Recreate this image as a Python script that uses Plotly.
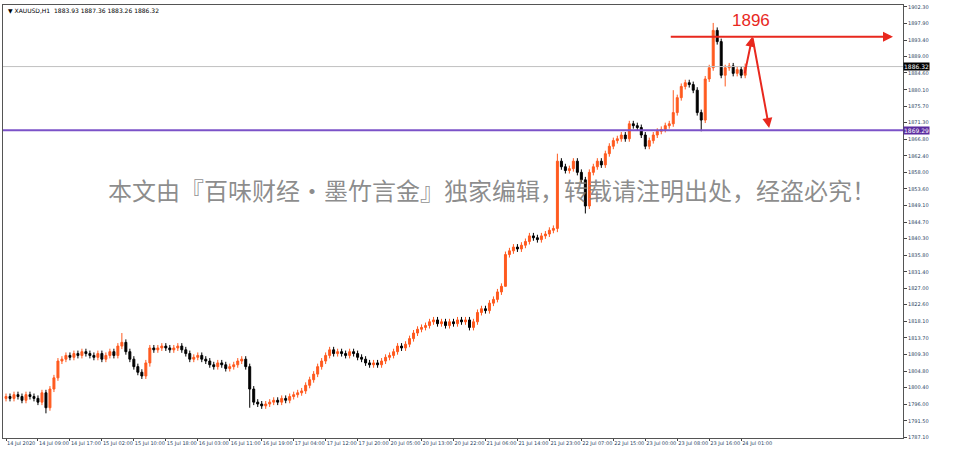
import plotly.graph_objects as go

closes = [
1798,1797.5,1798.5,1798,1797,1798.5,1798,1797.5,1796.5,1799,
1795,1800,1803,1807.5,1808,1809,1808.5,1809.5,1809,1810,
1809.5,1809,1808.5,1809.5,1808,1809,1810,1809,1811.5,1812.5,
1810,1808,1806,1804.5,1803.5,1807,1811,1810.5,1811,1811.5,
1811,1810.5,1811,1811.5,1810.5,1809.5,1808,1808.5,1809,1808,
1807.5,1806.5,1806,1807,1806.5,1805.5,1806,1806.5,1807.5,1808,
1806,1800,1796.5,1796,1795.5,1796,1796.5,1797,1796.5,1797.5,
1797,1798,1798.5,1799,1799.5,1801,1802.5,1804,1806,1807.5,
1809,1810.5,1809.5,1810,1809.5,1809,1810,1809.5,1808.5,1808,
1807,1806.5,1807,1806.5,1807.5,1808.5,1809,1810,1811.5,1811,
1812,1813.5,1815,1816,1816.5,1817,1818,1818.5,1817.5,1818,
1817,1818,1817.5,1818.5,1818,1818.5,1816.5,1818,1820.5,1821.5,
1821,1823,1824,1826,1827.5,1836,1837,1838,1837.5,1838.5,
1839.5,1841,1840.5,1840,1841,1841.5,1842.5,1843,1861,1859.5,
1858.5,1859,1861,1858,1856,1849,1858,1859.5,1861,1860,
1863,1865,1866.5,1867,1868,1867,1871,1870.5,1870,1868,
1865,1866.5,1868,1869,1869.5,1870.5,1871,1874,1878,1881,
1882,1881.5,1880,1874,1872,1883,1886,1896,1893,1884,
1886,1886.5,1884.5,1885.5,1884,1886.32]
first_open = 1797.5
wick = 0.8
spikes = {10: (None, 1793.5), 29: (1815, None), 36: (None, 1806), 61: (None, 1795),
          125: (None, 1828), 138: (1863, 1842), 145: (None, 1847), 167: (1880, None),
          174: (None, 1869), 177: (1898, None), 180: (None, 1881)}

tick_labels = ["14 Jul 2020","14 Jul 09:00","14 Jul 17:00","15 Jul 02:00","15 Jul 10:00",
 "15 Jul 18:00","16 Jul 03:00","16 Jul 11:00","16 Jul 19:00","17 Jul 04:00","17 Jul 12:00",
 "17 Jul 20:00","20 Jul 05:00","20 Jul 13:00","20 Jul 22:00","21 Jul 06:00","21 Jul 14:00",
 "21 Jul 23:00","22 Jul 07:00","22 Jul 15:00","23 Jul 00:00","23 Jul 08:00","23 Jul 16:00","24 Jul 01:00"]
y_ticks = [1902.30,1897.90,1893.40,1889.00,1884.60,1880.10,1875.70,1871.30,1866.80,1862.40,
 1858.00,1853.60,1849.10,1844.70,1840.30,1835.80,1831.40,1827.00,1822.60,1818.10,1813.70,
 1809.30,1804.80,1800.40,1796.00,1791.50,1787.10]
current_price = 1886.32
support = 1869.29
target = 1894.3

opens = [first_open] + closes[:-1]
highs, lows = [], []
for i, (o, c) in enumerate(zip(opens, closes)):
    h, l = max(o, c) + wick, min(o, c) - wick
    if i in spikes:
        sh, sl = spikes[i]
        if sh: h = sh
        if sl: l = sl
    highs.append(h); lows.append(l)
xs = list(range(len(closes)))

fig = go.Figure(go.Candlestick(x=xs, open=opens, high=highs, low=lows, close=closes,
    increasing=dict(line=dict(color="#FF5A1F", width=1), fillcolor="#FF5A1F"),
    decreasing=dict(line=dict(color="#000000", width=1), fillcolor="#000000"),
    whiskerwidth=0, hoverinfo="skip"))

fig.add_hline(y=current_price, line=dict(color="#C0C0C0", width=1))
fig.add_hline(y=support, line=dict(color="#7B52C8", width=2))

for y, bg in [(current_price, "#000000"), (support, "#5B2DA0")]:
    fig.add_annotation(x=1, xref="paper", y=y, yref="y", xanchor="left", showarrow=False,
        text=f"{y:.2f}", font=dict(size=6, color="white", family="DejaVu Sans"),
        bgcolor=bg, borderpad=0)

red = "#E8281E"
fig.add_annotation(x=222, y=target, ax=166, ay=target, axref="x", ayref="y", xref="x", yref="y",
    showarrow=True, arrowhead=2, arrowsize=1, arrowwidth=2, arrowcolor=red, text="")
fig.add_annotation(x=186.8, y=target, ax=184.8, ay=1884.1, axref="x", ayref="y", xref="x", yref="y",
    showarrow=True, arrowhead=2, arrowsize=1, arrowwidth=2, arrowcolor=red, text="")
fig.add_annotation(x=191, y=1869.9, ax=186.8, ay=target, axref="x", ayref="y", xref="x", yref="y",
    showarrow=True, arrowhead=2, arrowsize=1, arrowwidth=2, arrowcolor=red, text="")
fig.add_annotation(x=186.5, y=1898.6, text="1896", showarrow=False,
    font=dict(size=17, color=red, family="Liberation Sans"))

fig.add_annotation(x=0.543, y=0.575, xref="paper", yref="paper", showarrow=False,
    text="本文由『百味财经·墨竹言金』独家编辑，转载请注明出处，经盗必究！",
    font=dict(size=24, color="rgba(120,120,120,0.85)", family="Noto Sans CJK SC"))
fig.add_annotation(x=0.003, y=1, xref="paper", yref="paper", xanchor="left", yanchor="top",
    showarrow=False, text="▼ XAUUSD,H1  1883.93 1887.36 1883.26 1886.32",
    font=dict(size=6, color="#000", family="DejaVu Sans"))

fig.update_layout(width=960, height=450, margin=dict(l=3, r=57, t=5, b=12, pad=0),
    paper_bgcolor="white", plot_bgcolor="white", showlegend=False,
    xaxis=dict(rangeslider=dict(visible=False), range=[-0.75, 224.5], tickvals=xs[::8],
        ticktext=tick_labels, tickfont=dict(size=5, family="DejaVu Sans"), showgrid=False,
        ticks="outside", ticklen=2, tickangle=0, showline=True, linecolor="#555", mirror=True,
        zeroline=False, automargin=False, ticklabelposition="outside right"),
    yaxis=dict(side="right", range=[1786.9, 1902.8], tickvals=y_ticks,
        ticktext=[f"{v:.2f}" for v in y_ticks], tickfont=dict(size=5, family="DejaVu Sans"),
        showgrid=False, ticks="outside", ticklen=3, showline=True, linecolor="#555",
        mirror=True, zeroline=False, automargin=False))
fig.write_html("out.html", config={"displayModeBar": False},
    post_script="document.body.style.margin='0';document.body.style.overflow='hidden';")
